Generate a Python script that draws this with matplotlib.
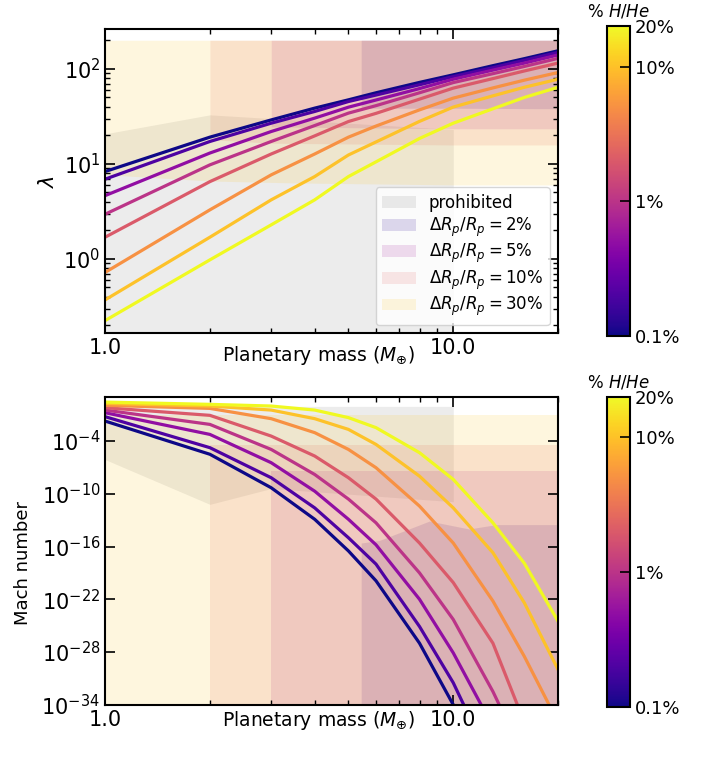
import numpy as np
import matplotlib
matplotlib.use('Agg')
import matplotlib.pyplot as plt
from matplotlib.colors import LogNorm
from matplotlib.cm import ScalarMappable
from matplotlib.ticker import FormatStrFormatter, NullFormatter, FixedLocator, NullLocator

# =====================
# DATA
# =====================
mass = [1, 2, 3, 4, 5, 6, 8, 10, 13, 16, 20]
hhe_frac = [0.1, 0.2, 0.5, 1, 2, 5, 10, 20]   # % H/He of each curve

# escape parameter lambda, one list per H/He fraction
lam_0p1 = [8.3, 19.1, 29.0, 38.6, 47.2, 56.0, 72.0, 86.5, 108, 128, 155]
lam_0p2 = [6.9, 17.2, 26.8, 35.6, 45.3, 53.0, 68.0, 83.0, 103, 123, 149]
lam_0p5 = [4.63, 13.0, 21.9, 30.3, 39.5, 47.0, 62.0, 77.8, 97, 115, 140]
lam_1 = [2.95, 9.76, 17.2, 25.3, 34.2, 41.0, 56.0, 71.7, 89, 106, 129]
lam_2 = [1.69, 6.5, 12.7, 19.7, 27.9, 34.0, 48.0, 62.7, 79, 95, 115]
lam_5 = [0.72, 3.28, 7.66, 12.7, 19.1, 25.0, 37.0, 49.2, 63, 76, 91.5]
lam_10 = [0.37, 1.69, 4.18, 7.35, 12.4, 17.0, 28.0, 39.6, 52, 64, 77.8]
lam_20 = [0.224, 0.976, 2.28, 4.18, 7.35, 10.5, 18.5, 26.8, 38, 50, 64]

# log10 of the Mach number at the base, one list per H/He fraction
logmach_0p1 = [-1.72, -5.5, -9.31, -12.9, -16.5, -19.9, -27.0, -34.0, -44, -54, -66]
logmach_0p2 = [-1.22, -4.75, -8.17, -11.6, -15.0, -18.0, -25.1, -31.5, -41, -50, -62]
logmach_0p5 = [-0.77, -3.24, -6.46, -9.7, -12.9, -15.8, -22.0, -28.1, -36.5, -45, -56]
logmach_1 = [-0.47, -2.1, -4.95, -7.8, -10.6, -13.3, -19.0, -24.3, -32.5, -40, -50]
logmach_2 = [-0.2, -1.07, -3.43, -5.7, -8.17, -10.6, -15.6, -20.1, -27, -36, -44]
logmach_5 = [0.07, -0.28, -1.45, -3.04, -4.95, -7.03, -11.4, -15.6, -22.2, -28.5, -36]
logmach_10 = [0.29, -0.01, -0.47, -1.45, -2.67, -4.38, -7.99, -11.6, -16.7, -22.4, -30.0]
logmach_20 = [0.44, 0.18, -0.01, -0.47, -1.33, -2.47, -5.32, -8.36, -13.3, -17.9, -24.5]

# shaded regions, lambda plane
lam_cap = 200
prohib_m = [1, 2, 10]
prohib_lam = [20.7, 32.8, 23.0]
dr30_m = [1, 2, 3.5, 10, 20]
dr30_lam = [7.7, 6.6, 6.3, 6.0, 6.0]
dr10_m = [2, 3, 10, 20]
dr10_lam = [18.0, 16.5, 15.8, 15.8]
dr5_m = [3, 10, 20]
dr5_lam = [24.5, 23.4, 23.4]
dr2_m = [5.44, 10, 20]
dr2_lam = [38.5, 38.5, 38.0]

# shaded regions, Mach plane (log10)
mach_floor = -40
prohib_mach_m = [1, 2, 3, 10]
prohib_mach_low = [-6.1, -11.2, -9.4, -10.9]
prohib_mach_top = -0.05
dr30_mach_m = [1, 20]
dr30_mach = [-1.0, -1.0]
dr10_mach_m = [2, 20]
dr10_mach = [-4.5, -4.5]
dr5_mach_m = [3, 20]
dr5_mach = [-7.4, -7.4]
dr2_mach_m = [5.44, 6.14, 8.54, 11.1, 13.3, 20]
dr2_mach = [-15.6, -15.3, -13.1, -14.0, -13.5, -13.5]

lam_sets = [lam_0p1, lam_0p2, lam_0p5, lam_1, lam_2, lam_5, lam_10, lam_20]
mach_sets = [logmach_0p1, logmach_0p2, logmach_0p5, logmach_1,
             logmach_2, logmach_5, logmach_10, logmach_20]

# =====================
# STYLE
# =====================
cmap = plt.cm.plasma
norm = LogNorm(vmin=0.1, vmax=20)
reg_alpha = 0.15
c_prohib = 'grey'
c_dr2 = cmap(0.05)
c_dr5 = cmap(0.35)
c_dr10 = cmap(0.6)
c_dr30 = cmap(0.88)

plt.rcParams['axes.linewidth'] = 1.5

fig = plt.figure(figsize=(7.1, 7.66), dpi=100)
ax1 = fig.add_axes([0.148, 0.565, 0.638, 0.397])
ax2 = fig.add_axes([0.148, 0.080, 0.638, 0.402])
cax1 = fig.add_axes([0.855, 0.562, 0.032, 0.404])
cax2 = fig.add_axes([0.855, 0.077, 0.032, 0.405])

# =====================
# TOP: lambda
# =====================
ax1.fill_between(prohib_m, 0.1, prohib_lam, color=c_prohib, alpha=reg_alpha, lw=0, label='prohibited')
ax1.fill_between(dr2_m, dr2_lam, lam_cap, color=c_dr2, alpha=reg_alpha, lw=0, label=r'$\Delta R_p/R_p = 2\%$')
ax1.fill_between(dr5_m, dr5_lam, lam_cap, color=c_dr5, alpha=reg_alpha, lw=0, label=r'$\Delta R_p/R_p = 5\%$')
ax1.fill_between(dr10_m, dr10_lam, lam_cap, color=c_dr10, alpha=reg_alpha, lw=0, label=r'$\Delta R_p/R_p = 10\%$')
ax1.fill_between(dr30_m, dr30_lam, lam_cap, color=c_dr30, alpha=reg_alpha, lw=0, label=r'$\Delta R_p/R_p = 30\%$')

for f, lam in zip(hhe_frac, lam_sets):
    ax1.plot(mass, lam, color=cmap(norm(f)), lw=2.3)

ax1.set_xscale('log')
ax1.set_yscale('log')
ax1.set_xlim(1, 20)
ax1.set_ylim(0.165, 262)
ax1.set_ylabel(r'$\lambda$', fontsize=15)
ax1.set_xlabel(r'Planetary mass ($M_{\oplus}$)', fontsize=13.5)
ax1.xaxis.set_label_coords(0.472, -0.034)
ax1.legend(loc='lower right', fontsize=12, labelspacing=0.2)

# =====================
# BOTTOM: Mach number
# =====================
ax2.fill_between(prohib_mach_m, 10.0 ** np.array(prohib_mach_low), 10.0 ** prohib_mach_top,
                 color=c_prohib, alpha=reg_alpha, lw=0)
ax2.fill_between(dr2_mach_m, 10.0 ** mach_floor, 10.0 ** np.array(dr2_mach), color=c_dr2, alpha=reg_alpha, lw=0)
ax2.fill_between(dr5_mach_m, 10.0 ** mach_floor, 10.0 ** np.array(dr5_mach), color=c_dr5, alpha=reg_alpha, lw=0)
ax2.fill_between(dr10_mach_m, 10.0 ** mach_floor, 10.0 ** np.array(dr10_mach), color=c_dr10, alpha=reg_alpha, lw=0)
ax2.fill_between(dr30_mach_m, 10.0 ** mach_floor, 10.0 ** np.array(dr30_mach), color=c_dr30, alpha=reg_alpha, lw=0)

for f, lm in zip(hhe_frac, mach_sets):
    ax2.plot(mass, 10.0 ** np.array(lm), color=cmap(norm(f)), lw=2.3)

ax2.set_xscale('log')
ax2.set_yscale('log')
ax2.set_xlim(1, 20)
ax2.set_ylim(1e-34, 11)
ax2.yaxis.set_major_locator(FixedLocator([1e-34, 1e-28, 1e-22, 1e-16, 1e-10, 1e-4]))
ax2.yaxis.set_minor_locator(NullLocator())
ax2.set_ylabel('Mach number', fontsize=13)
ax2.yaxis.set_label_coords(-0.162, 0.46)
ax2.set_xlabel(r'Planetary mass ($M_{\oplus}$)', fontsize=13.5)
ax2.xaxis.set_label_coords(0.472, -0.015)

for ax in (ax1, ax2):
    ax.xaxis.set_major_formatter(FormatStrFormatter('%.1f'))
    ax.xaxis.set_minor_formatter(NullFormatter())
    ax.tick_params(which='both', direction='in', top=True, right=True, labelsize=15)
    ax.tick_params(which='major', length=7, width=1.2)
    ax.tick_params(which='minor', length=3.5, width=1)

# =====================
# COLORBARS
# =====================
for cax in (cax1, cax2):
    cb = fig.colorbar(ScalarMappable(norm=norm, cmap=cmap), cax=cax)
    cb.set_ticks([0.1, 1, 10, 20])
    cb.set_ticklabels(['0.1%', '1%', '10%', '20%'])
    cb.ax.minorticks_off()
    cb.ax.tick_params(direction='in', length=7, width=1.2, labelsize=13)
    cb.outline.set_linewidth(1.5)
    cb.ax.set_title(r'% $H/He$', fontsize=12, pad=7)

fig.savefig('out.png', dpi=100)
